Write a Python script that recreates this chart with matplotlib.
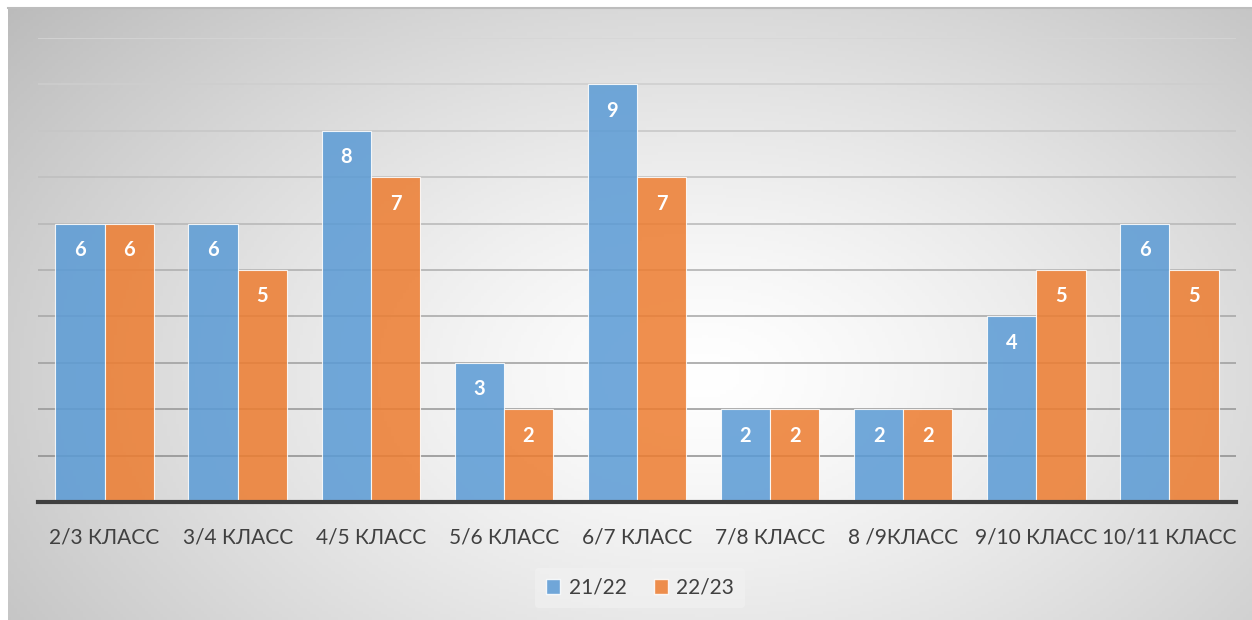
import numpy as np
import matplotlib
matplotlib.use("Agg")
import matplotlib.pyplot as plt
from matplotlib.patches import Patch

plt.rcParams['font.family'] = ['Lato', 'DejaVu Sans']

# данные
classes = ["2/3 КЛАСС", "3/4 КЛАСС", "4/5 КЛАСС", "5/6 КЛАСС", "6/7 КЛАСС",
           "7/8 КЛАСС", "8 /9КЛАСС", "9/10 КЛАСС", "10/11 КЛАСС"]
year1 = [6, 6, 8, 3, 9, 2, 2, 4, 6]
year2 = [6, 5, 7, 2, 7, 2, 2, 5, 5]
series_names = ["21/22", "22/23"]

W, H = 1252, 620
fig = plt.figure(figsize=(W / 100, H / 100), dpi=100)
fig.patch.set_facecolor("white")

# фон - радиальный градиент
bg = fig.add_axes([8 / W, 0, (W - 8) / W, (H - 8) / H])
bg.set_axis_off()
xx, yy = np.meshgrid(np.linspace(0, 1, 400), np.linspace(0, 1, 200))
r = np.sqrt(((xx - 0.56) / 0.56) ** 2 + ((yy - 0.6) / 0.72) ** 2)
g = (255 - 48 * np.clip(r, 0, 1.35) ** 1.3) / 255.0
bg.imshow(np.dstack([g, g, g]), extent=[0, 1, 0, 1], aspect="auto", origin="upper")
bg.plot([0, 1], [1, 1], color="#bdbdbd", lw=1.5, transform=bg.transAxes, clip_on=False)

ax = fig.add_axes([38 / W, (H - 502) / H, 1198 / W, 464 / H])
ax.patch.set_alpha(0)

x = np.arange(len(classes))
bw = 0.37
for lvl in range(1, 11):
    shade = 0.52 + 0.32 * (lvl / 10)
    ax.axhline(lvl, color=(shade, shade, shade), lw=1.1, zorder=0)

b1 = ax.bar(x - bw / 2, year1, bw, color="#5b9bd5", alpha=0.86, edgecolor="white", linewidth=0.8, zorder=2)
b2 = ax.bar(x + bw / 2, year2, bw, color="#ed7d31", alpha=0.86, edgecolor="white", linewidth=0.8, zorder=2)

for bars, vals in ((b1, year1), (b2, year2)):
    for rect, v in zip(bars, vals):
        ax.text(rect.get_x() + rect.get_width() / 2, v - 0.57, str(v), ha="center", va="center",
                color="white", fontsize=14.5, fontweight="bold", zorder=3)

ax.set_xlim(-0.5, len(classes) - 0.5)
ax.set_ylim(0, 10)
ax.set_yticks([])
ax.set_xticks(x)
ax.set_xticklabels(classes, fontsize=15, color="#404040")
ax.tick_params(axis="x", length=0, pad=18)
for s in ("top", "right", "left"):
    ax.spines[s].set_visible(False)
ax.spines["bottom"].set_color("#404040")
ax.spines["bottom"].set_linewidth(3)
ax.spines["bottom"].set_zorder(4)

handles = [Patch(facecolor="#5b9bd5", alpha=0.86, edgecolor="white"),
           Patch(facecolor="#ed7d31", alpha=0.86, edgecolor="white")]
leg = fig.legend(handles, series_names, loc="center", bbox_to_anchor=(640 / W, (H - 588) / H),
                 ncol=2, frameon=True, fontsize=15, handlelength=0.7, handleheight=0.7,
                 handletextpad=0.4, columnspacing=1.3, borderpad=0.5)
leg.get_frame().set_facecolor("#f2f2f2")
leg.get_frame().set_edgecolor("none")
leg.get_frame().set_alpha(0.6)
for t in leg.get_texts():
    t.set_color("#404040")

fig.savefig("out.png", dpi=100)
